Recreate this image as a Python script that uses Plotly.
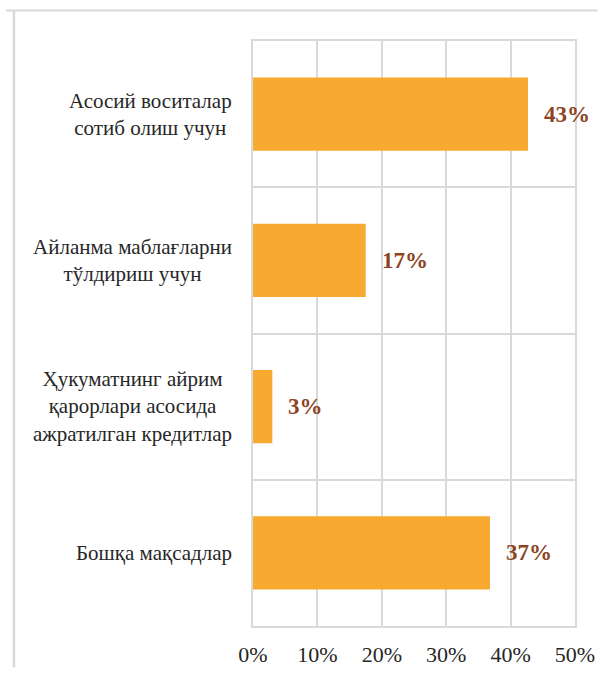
import plotly.graph_objects as go

categories = [
    "Асосий воситалар<br>сотиб олиш учун",
    "Айланма маблағларни<br>тўлдириш учун",
    "Ҳукуматнинг айрим<br>қарорлари асосида<br>ажратилган кредитлар",
    "Бошқа мақсадлар",
]
values = [42.7, 17.5, 3.0, 36.8]
value_labels = ["43%", "17%", "3%", "37%"]
x_ticks = [0, 10, 20, 30, 40, 50]
x_tick_labels = ["0%", "10%", "20%", "30%", "40%", "50%"]

GRID = "#d9d9d9"
BAR = "#f8a930"
LBL = "#8c4424"
FONT = "Liberation Serif, Times New Roman, DejaVu Serif, serif"

W, H = 607, 679
ML, MR, MT, MB = 253, 24, 41, 43
PW, PH = W - ML - MR, H - MT - MB

positions = list(range(len(categories)))

fig = go.Figure(go.Bar(
    x=values, y=positions, orientation="h",
    marker=dict(color=BAR, line=dict(width=0)),
    width=0.5, hoverinfo="skip",
))

annotations = []
for p, cat in zip(positions, categories):
    annotations.append(dict(
        x=-0.06, xref="paper", y=p, yref="y", text=cat,
        xanchor="right", yanchor="middle", align="center", showarrow=False,
        font=dict(family=FONT, size=21, color="#262626"),
    ))
for p, v, t in zip(positions, values, value_labels):
    annotations.append(dict(
        x=v, xref="x", y=p, yref="y", text="<b>%s</b>" % t,
        xanchor="left", yanchor="middle", xshift=14, showarrow=False,
        font=dict(family=FONT, size=23, color=LBL),
    ))

top_y = (H - MB - 10) / PH
left_x = (8 - ML) / PW
fig.update_layout(
    width=W, height=H,
    margin=dict(l=ML, r=MR, t=MT, b=MB),
    paper_bgcolor="white", plot_bgcolor="white",
    showlegend=False,
    font=dict(family=FONT),
    xaxis=dict(
        range=[0, 50], tickvals=x_ticks, ticktext=x_tick_labels,
        showgrid=True, gridcolor=GRID, gridwidth=1.5, zeroline=False,
        showline=True, linecolor=GRID, linewidth=1.5, mirror=True,
        ticks="", ticklabelstandoff=8,
        tickfont=dict(family=FONT, size=22, color="#262626"),
        fixedrange=True,
    ),
    yaxis=dict(
        range=[3.5, -0.5], tickvals=[-0.5, 0.5, 1.5, 2.5, 3.5],
        showticklabels=False, showgrid=True, gridcolor=GRID, gridwidth=1.5,
        zeroline=False, showline=True, linecolor=GRID, linewidth=1.5, mirror=True,
        ticks="", fixedrange=True,
    ),
    annotations=annotations,
    shapes=[
        dict(type="line", xref="paper", yref="paper", x0=-ML / PW, x1=(W - ML - 1) / PW,
             y0=top_y, y1=top_y, line=dict(color=GRID, width=2), layer="above"),
        dict(type="line", xref="paper", yref="paper", x0=left_x, x1=left_x,
             y0=top_y, y1=-(MB - 1) / PH, line=dict(color=GRID, width=2.5), layer="above"),
    ],
)

fig.write_html(
    "out.html",
    config={"displayModeBar": False},
    post_script="document.body.style.margin='0';document.body.style.overflow='hidden';",
)
